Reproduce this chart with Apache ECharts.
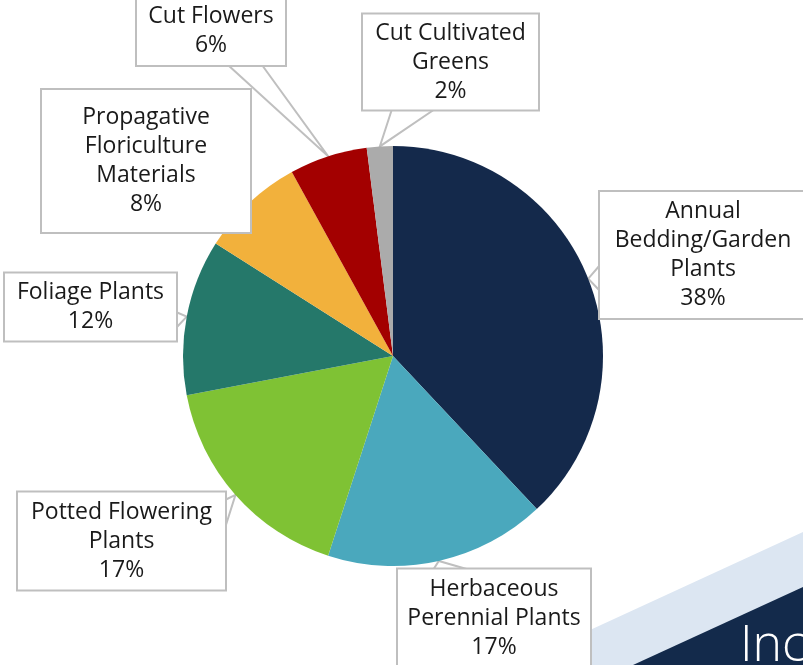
<!DOCTYPE html>
<html>
<head>
<meta charset="utf-8">
<script src="https://cdn.jsdelivr.net/npm/echarts@6/dist/echarts.min.js"></script>
<style>html,body{margin:0;padding:0;background:#fff}#main{width:803px;height:665px}</style>
</head>
<body>
<div id="main"></div>
<script>
// ---- data ----
const categories = [
  'Annual\nBedding/Garden\nPlants',
  'Herbaceous\nPerennial Plants',
  'Potted Flowering\nPlants',
  'Foliage Plants',
  'Propagative\nFloriculture\nMaterials',
  'Cut Flowers',
  'Cut Cultivated\nGreens'
];
const shares = [38, 17, 17, 12, 8, 6, 2];
const cornerText = 'Inc';

// ---- styling / layout (kept separate from data) ----
const colors = ['#14294b', '#4aa8bd', '#7fc234', '#25786a', '#f2b13c', '#a30000', '#ababab'];
// label box centre, width, vertical padding, and the two points where the callout meets the box
const boxes = [
  { cx: 703, cy: 255, w: 206, pad: 5, base: [[600, 265], [600, 291]] },
  { cx: 494, cy: 618, w: 192, pad: 5, base: [[433, 570], [470, 570]] },
  { cx: 121.5, cy: 541, w: 207, pad: 5, base: [[225, 500], [225, 528]] },
  { cx: 90.5, cy: 307, w: 171, pad: 4.5, base: [[176, 312], [176, 328]] },
  { cx: 146, cy: 161, w: 208, pad: 13, base: [[215, 232], [245, 232]] },
  { cx: 211, cy: 31, w: 148, pad: 5, base: [[228, 65], [262, 65]] },
  { cx: 450.5, cy: 62, w: 175, pad: 4, base: [[392, 109], [435, 109]] }
];

const chart = echarts.init(document.getElementById('main'), null, { renderer: 'canvas' });

const data = categories.map((name, i) => ({
  name: name,
  value: shares[i],
  itemStyle: { color: colors[i] },
  label: { width: boxes[i].w, padding: [boxes[i].pad, 0, boxes[i].pad, 0] }
}));

chart.setOption({
  animation: false,
  backgroundColor: '#ffffff',
  graphic: [
    { type: 'polygon', z: -10, silent: true,
      shape: { points: [[514, 665], [803, 532], [803, 665]] },
      style: { fill: '#dce6f2' } },
    { type: 'polygon', z: -9, silent: true,
      shape: { points: [[633, 665], [803, 587], [803, 665]] },
      style: { fill: '#132a4b' } },
    { type: 'text', z: -8, silent: true, left: 740, top: 622,
      style: { text: cornerText, fill: '#ffffff', font: '300 50px "Open Sans", Lato, sans-serif' } }
  ],
  series: [{
    type: 'pie',
    center: [393, 356],
    radius: [0, 210],
    startAngle: 90,
    clockwise: true,
    avoidLabelOverlap: false,
    itemStyle: { borderWidth: 0 },
    data: data,
    label: {
      show: true,
      position: 'outside',
      formatter: p => p.name + '\n' + p.value + '%',
      fontFamily: '"Open Sans", Lato, sans-serif',
      fontSize: 23,
      lineHeight: 29,
      color: '#1a1a1a',
      align: 'center',
      backgroundColor: '#ffffff',
      borderColor: '#bfbfbf',
      borderWidth: 2
    },
    labelLine: {
      show: true,
      length: 10,
      length2: 10,
      lineStyle: { color: '#bfbfbf', width: 2 }
    },
    labelLayout: function (params) {
      const b = boxes[params.dataIndex];
      const out = { x: b.cx, y: b.cy, align: 'center', verticalAlign: 'middle' };
      const pts = params.labelLinePoints;
      if (pts && pts.length) {
        const tip = pts[0];
        out.labelLinePoints = [b.base[0], [tip[0], tip[1]], b.base[1]];
      }
      return out;
    }
  }]
});
</script>
</body>
</html>
